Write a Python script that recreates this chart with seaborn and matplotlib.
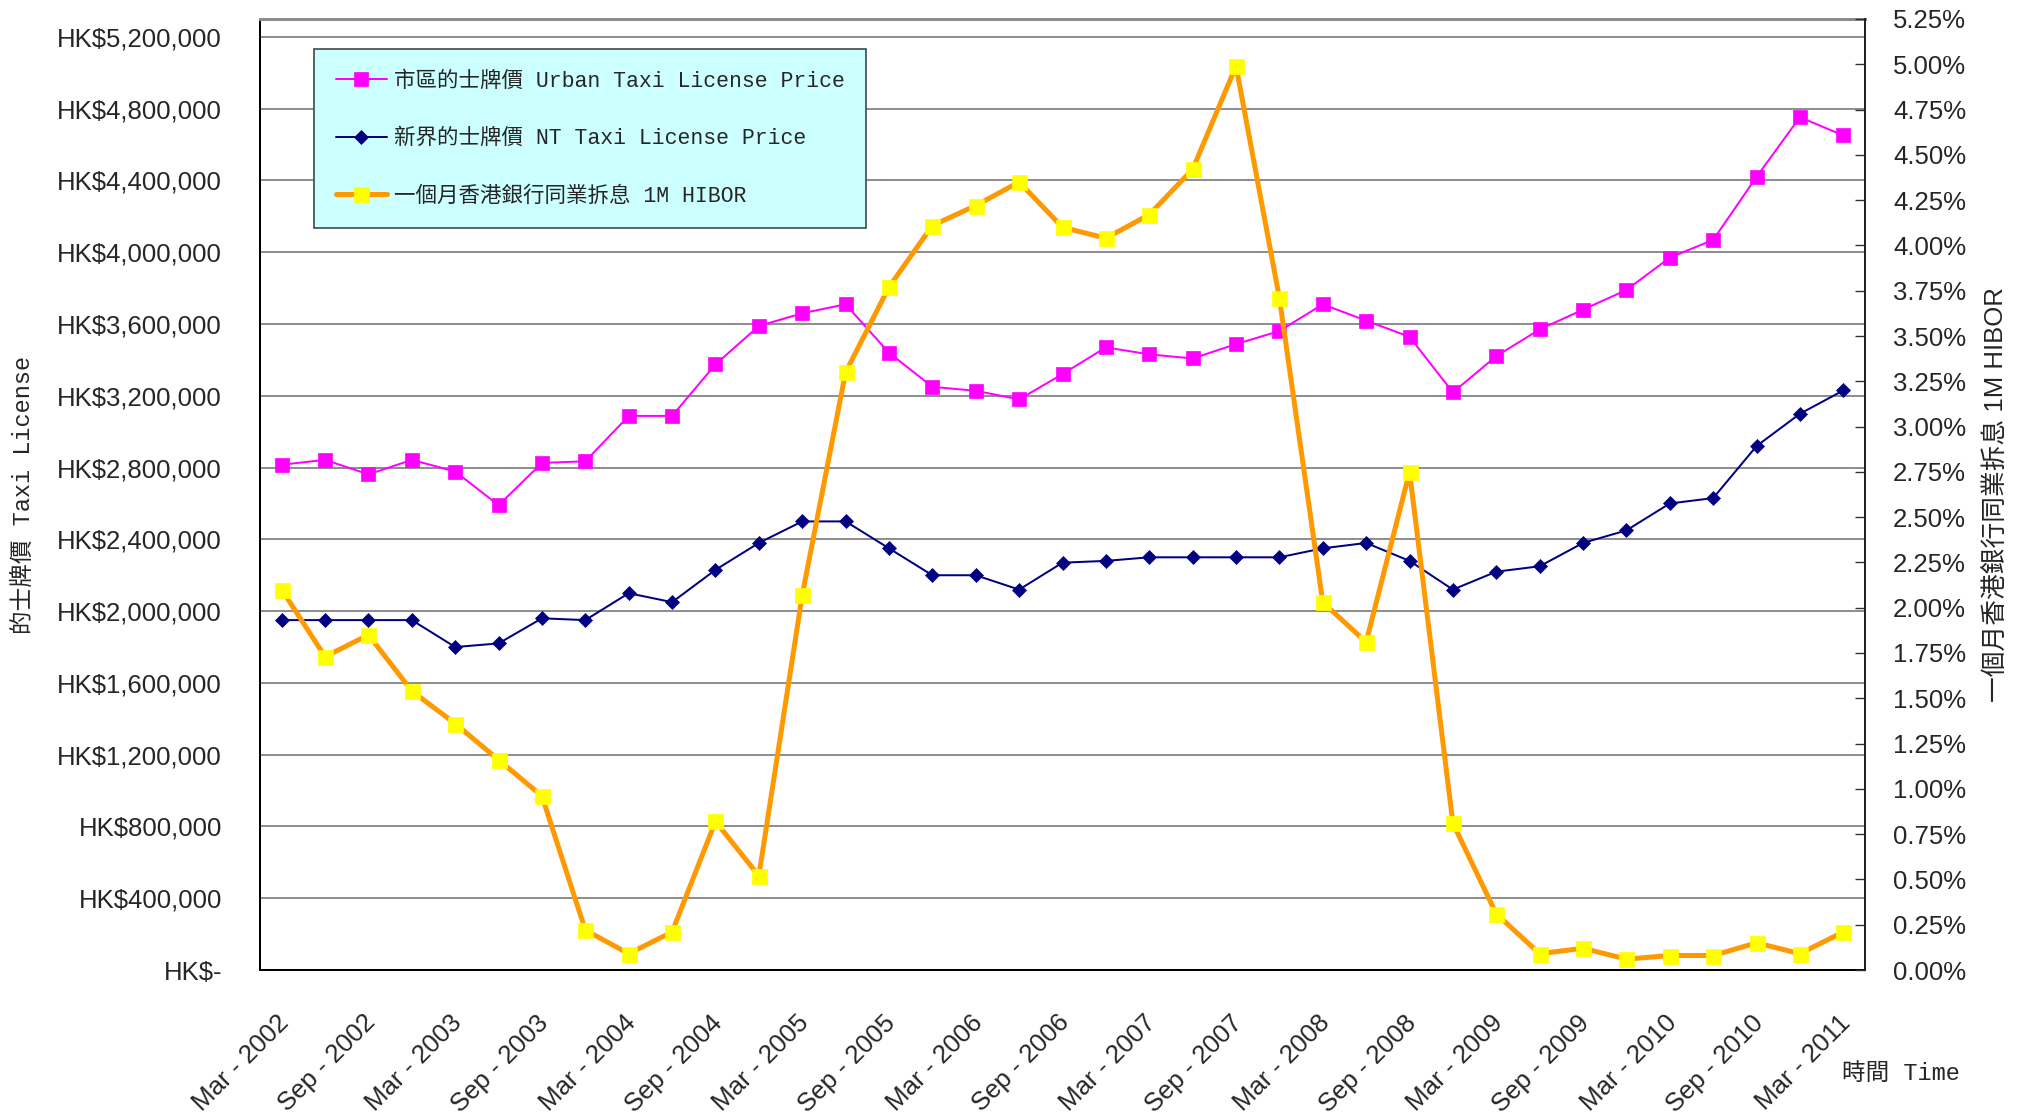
import numpy as np
import matplotlib
matplotlib.use("Agg")
import matplotlib.pyplot as plt
import seaborn as sns
from matplotlib.transforms import ScaledTranslation
from matplotlib.font_manager import FontProperties

# ---------------- data ----------------
quarters = [
    "Mar - 2002", "Jun - 2002", "Sep - 2002", "Dec - 2002",
    "Mar - 2003", "Jun - 2003", "Sep - 2003", "Dec - 2003",
    "Mar - 2004", "Jun - 2004", "Sep - 2004", "Dec - 2004",
    "Mar - 2005", "Jun - 2005", "Sep - 2005", "Dec - 2005",
    "Mar - 2006", "Jun - 2006", "Sep - 2006", "Dec - 2006",
    "Mar - 2007", "Jun - 2007", "Sep - 2007", "Dec - 2007",
    "Mar - 2008", "Jun - 2008", "Sep - 2008", "Dec - 2008",
    "Mar - 2009", "Jun - 2009", "Sep - 2009", "Dec - 2009",
    "Mar - 2010", "Jun - 2010", "Sep - 2010", "Dec - 2010",
    "Mar - 2011",
]

urban_price = [
    2816000, 2843000, 2762000, 2843000, 2778000, 2590000, 2826000, 2835000,
    3088000, 3088000, 3375000, 3589000, 3660000, 3710000, 3440000, 3250000,
    3228000, 3180000, 3321000, 3470000, 3431000, 3408000, 3488000, 3561000,
    3710000, 3619000, 3529000, 3219000, 3421000, 3570000, 3680000, 3790000,
    3970000, 4069000, 4420000, 4753000, 4651000,
]

nt_price = [
    1950000, 1950000, 1950000, 1950000, 1800000, 1820000, 1960000, 1950000,
    2100000, 2050000, 2230000, 2380000, 2500000, 2500000, 2350000, 2200000,
    2200000, 2120000, 2270000, 2280000, 2300000, 2300000, 2300000, 2300000,
    2350000, 2380000, 2280000, 2120000, 2220000, 2250000, 2380000, 2450000,
    2600000, 2630000, 2920000, 3100000, 3230000,
]

hibor_pct = [
    2.10, 1.73, 1.85, 1.54, 1.36, 1.16, 0.96, 0.22,
    0.09, 0.21, 0.82, 0.52, 2.07, 3.30, 3.77, 4.11,
    4.22, 4.35, 4.10, 4.04, 4.17, 4.42, 4.99, 3.71,
    2.03, 1.81, 2.75, 0.81, 0.31, 0.09, 0.12, 0.06,
    0.08, 0.08, 0.15, 0.09, 0.21,
]

series_labels = [
    "市區的士牌價 Urban Taxi License Price",
    "新界的士牌價 NT Taxi License Price",
    "一個月香港銀行同業拆息 1M HIBOR",
]
left_ticks = [0, 400000, 800000, 1200000, 1600000, 2000000, 2400000, 2800000,
              3200000, 3600000, 4000000, 4400000, 4800000, 5200000]
right_ticks = [0.00, 0.25, 0.50, 0.75, 1.00, 1.25, 1.50, 1.75, 2.00, 2.25, 2.50,
               2.75, 3.00, 3.25, 3.50, 3.75, 4.00, 4.25, 4.50, 4.75, 5.00, 5.25]
left_title = "的士牌價 Taxi License"
right_title = "一個月香港銀行同業拆息 1M HIBOR"
x_title = "時間 Time"

# ---------------- style ----------------
sns.set_style("white")
plt.rcParams["font.family"] = ["Liberation Sans", "Noto Sans CJK TC"]
MONO_CJK = ["Liberation Mono", "Noto Sans CJK TC"]
SANS_CJK = ["Liberation Sans", "Noto Sans CJK TC"]

W, H, DPI = 2027, 1115, 100
PX = 72.0 / DPI  # points per pixel

fig = plt.figure(figsize=(W / DPI, H / DPI), dpi=DPI)
fig.patch.set_facecolor("white")
L, R, T, B = 260, 1865, 19, 970
ax = fig.add_axes([L / W, 1 - B / H, (R - L) / W, (B - T) / H])
ax2 = ax.twinx()

x = np.arange(len(quarters))

sns.lineplot(x=x, y=urban_price, ax=ax, color="#FF00FF", linewidth=2 * PX,
             marker="s", markersize=14.5 * PX, markerfacecolor="#FF00FF",
             markeredgecolor="#FF00FF", markeredgewidth=0.5, legend=False)
l_urban = ax.lines[-1]
sns.lineplot(x=x, y=nt_price, ax=ax, color="#000080", linewidth=2 * PX,
             marker="D", markersize=10 * PX, markerfacecolor="#000080",
             markeredgecolor="#000080", markeredgewidth=0.5, legend=False)
l_nt = ax.lines[-1]
sns.lineplot(x=x, y=hibor_pct, ax=ax2, color="#FF9900", linewidth=5 * PX,
             marker="s", markersize=15 * PX, markerfacecolor="#FFFF00",
             markeredgecolor="#FFFF00", markeredgewidth=0.5, legend=False)
l_hibor = ax2.lines[-1]

# ---------------- axes ----------------
ax.set_xlim(-0.5, len(quarters) - 0.5)
ax.set_ylim(0, 5.3e6)
ax2.set_ylim(0, 5.25)

ax.set_yticks(left_ticks)
ax.set_yticklabels(["HK$-" if v == 0 else f"HK${v:,.0f}" for v in left_ticks])
ax.tick_params(axis="y", length=0, pad=38 * PX, labelsize=18.5)
ax.yaxis.grid(True, color="#6E6E6E", linewidth=1.1)
ax.xaxis.grid(False)
ax.set_axisbelow(True)

ax2.set_yticks(right_ticks)
ax2.set_yticklabels([f"{v:.2f}%" for v in right_ticks])
ax2.tick_params(axis="y", direction="in", length=10 * PX, width=1, color="#333333",
                pad=28 * PX, labelsize=18.5)

major = list(range(0, len(quarters), 2))
ax.set_xticks(major)
ax.set_xticklabels([quarters[i] for i in major], rotation=45, ha="right",
                   va="center", rotation_mode="anchor")
ax.set_xticks(np.arange(0.5, len(quarters) - 1, 1.0), minor=True)
ax.tick_params(axis="x", which="major", length=0, pad=49 * PX, labelsize=18.5)
ax.tick_params(axis="x", which="minor", direction="in", length=10 * PX, width=1,
               color="#333333")
offset = ScaledTranslation(3 / DPI, 0, fig.dpi_scale_trans)
for lbl in ax.get_xticklabels():
    lbl.set_transform(lbl.get_transform() + offset)

# spines
for s in ["left", "bottom"]:
    ax.spines[s].set_color("black")
    ax.spines[s].set_linewidth(2 * PX)
ax.spines["top"].set_color("#8C8C8C")
ax.spines["top"].set_linewidth(3 * PX)
ax.spines["right"].set_visible(False)
for s in ["left", "bottom", "top"]:
    ax2.spines[s].set_visible(False)
ax2.spines["right"].set_color("#222222")
ax2.spines["right"].set_linewidth(2 * PX)

# axis titles
ax.set_ylabel(left_title, fontfamily=MONO_CJK, fontsize=17, rotation=90)
ax.yaxis.set_label_coords((23 - L) / (R - L), 0.5)
ax.yaxis.label.set_ha("center")
ax.yaxis.label.set_va("center")

ax2.set_ylabel(right_title, fontfamily=SANS_CJK, fontsize=18.5, rotation=90)
ax2.yaxis.set_label_coords((1997 - L) / (R - L), 0.5)
ax2.yaxis.label.set_ha("center")
ax2.yaxis.label.set_va("center")
ax2.yaxis.label.set_rotation_mode("default")

ax.set_xlabel(x_title, fontfamily=MONO_CJK, fontsize=17)
ax.xaxis.set_label_coords((1901 - L) / (R - L), (B - 1073) / (B - T))
ax.xaxis.label.set_ha("center")
ax.xaxis.label.set_va("center")

# legend
leg = ax2.legend(
    [l_urban, l_nt, l_hibor], series_labels,
    loc="upper left", bbox_to_anchor=(314 / W, 1 - 49 / H),
    bbox_transform=fig.transFigure, borderaxespad=0,
    prop=FontProperties(family=MONO_CJK, size=15.5),
    frameon=True, fancybox=False, framealpha=1,
    facecolor="#CCFFFF", edgecolor="#404848",
    handlelength=2.4, handletextpad=0.3, borderpad=1.0, labelspacing=1.7,
)
leg.get_frame().set_linewidth(1.2)
leg.set_zorder(10)

fig.savefig("out.png", dpi=DPI, facecolor="white")
